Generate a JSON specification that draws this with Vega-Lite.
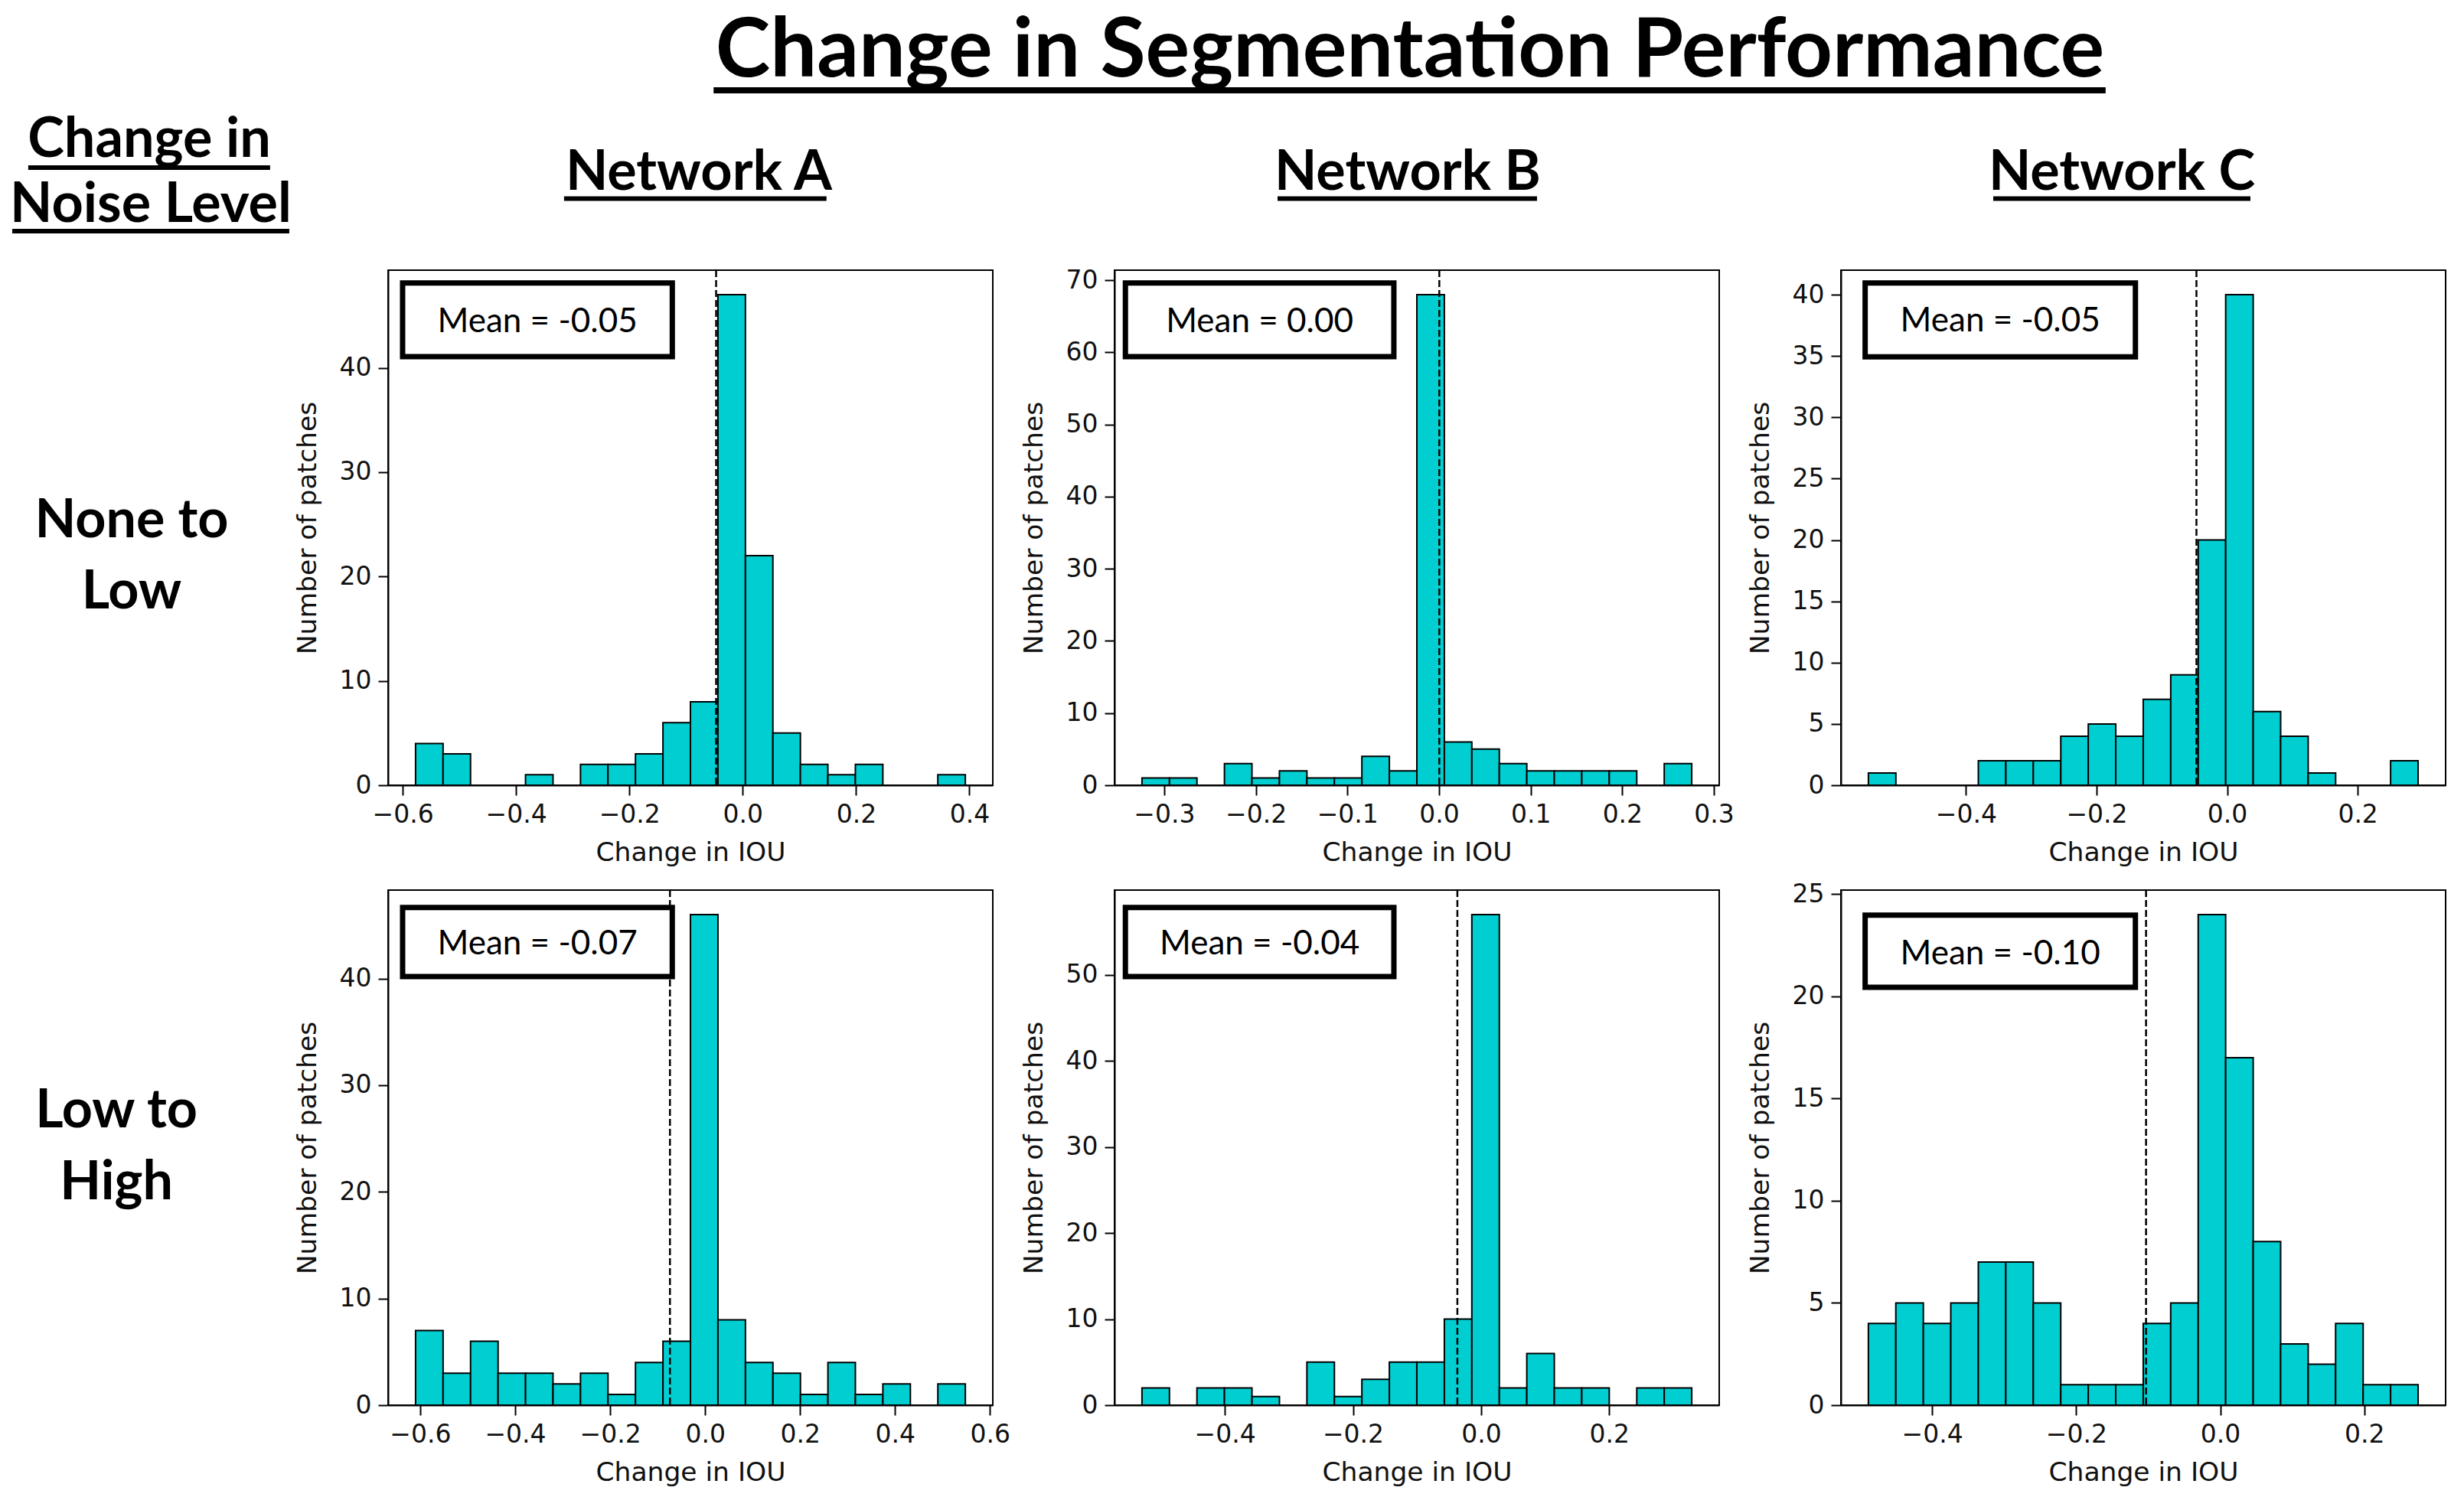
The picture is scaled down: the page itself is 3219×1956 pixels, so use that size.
{
  "$schema": "https://vega.github.io/schema/vega-lite/v6.json",
  "padding": {"top": 10, "left": 0, "right": 0, "bottom": 0},
  "background": "white",
  "columns": 4,
  "align": "each",
  "bounds": "flush",
  "spacing": {"row": 137, "column": 159},
  "datasets": {
    "bins": [
      {"panel": "A1", "lo": -0.5773, "hi": -0.5288, "count": 4},
      {"panel": "A1", "lo": -0.5288, "hi": -0.4803, "count": 3},
      {"panel": "A1", "lo": -0.3833, "hi": -0.3348, "count": 1},
      {"panel": "A1", "lo": -0.2863, "hi": -0.2378, "count": 2},
      {"panel": "A1", "lo": -0.2378, "hi": -0.1893, "count": 2},
      {"panel": "A1", "lo": -0.1893, "hi": -0.1408, "count": 3},
      {"panel": "A1", "lo": -0.1408, "hi": -0.0923, "count": 6},
      {"panel": "A1", "lo": -0.0923, "hi": -0.0438, "count": 8},
      {"panel": "A1", "lo": -0.0438, "hi": 0.0047, "count": 47},
      {"panel": "A1", "lo": 0.0047, "hi": 0.0532, "count": 22},
      {"panel": "A1", "lo": 0.0532, "hi": 0.1017, "count": 5},
      {"panel": "A1", "lo": 0.1017, "hi": 0.1502, "count": 2},
      {"panel": "A1", "lo": 0.1502, "hi": 0.1987, "count": 1},
      {"panel": "A1", "lo": 0.1987, "hi": 0.2472, "count": 2},
      {"panel": "A1", "lo": 0.3442, "hi": 0.3927, "count": 1},

      {"panel": "B1", "lo": -0.3242, "hi": -0.2942, "count": 1},
      {"panel": "B1", "lo": -0.2942, "hi": -0.2642, "count": 1},
      {"panel": "B1", "lo": -0.2342, "hi": -0.2042, "count": 3},
      {"panel": "B1", "lo": -0.2042, "hi": -0.1742, "count": 1},
      {"panel": "B1", "lo": -0.1742, "hi": -0.1442, "count": 2},
      {"panel": "B1", "lo": -0.1442, "hi": -0.1142, "count": 1},
      {"panel": "B1", "lo": -0.1142, "hi": -0.0842, "count": 1},
      {"panel": "B1", "lo": -0.0842, "hi": -0.0542, "count": 4},
      {"panel": "B1", "lo": -0.0542, "hi": -0.0242, "count": 2},
      {"panel": "B1", "lo": -0.0242, "hi": 0.0058, "count": 68},
      {"panel": "B1", "lo": 0.0058, "hi": 0.0358, "count": 6},
      {"panel": "B1", "lo": 0.0358, "hi": 0.0658, "count": 5},
      {"panel": "B1", "lo": 0.0658, "hi": 0.0958, "count": 3},
      {"panel": "B1", "lo": 0.0958, "hi": 0.1258, "count": 2},
      {"panel": "B1", "lo": 0.1258, "hi": 0.1558, "count": 2},
      {"panel": "B1", "lo": 0.1558, "hi": 0.1858, "count": 2},
      {"panel": "B1", "lo": 0.1858, "hi": 0.2158, "count": 2},
      {"panel": "B1", "lo": 0.2458, "hi": 0.2758, "count": 3},

      {"panel": "C1", "lo": -0.5495, "hi": -0.5074, "count": 1},
      {"panel": "C1", "lo": -0.3811, "hi": -0.3390, "count": 2},
      {"panel": "C1", "lo": -0.3390, "hi": -0.2969, "count": 2},
      {"panel": "C1", "lo": -0.2969, "hi": -0.2548, "count": 2},
      {"panel": "C1", "lo": -0.2548, "hi": -0.2127, "count": 4},
      {"panel": "C1", "lo": -0.2127, "hi": -0.1706, "count": 5},
      {"panel": "C1", "lo": -0.1706, "hi": -0.1285, "count": 4},
      {"panel": "C1", "lo": -0.1285, "hi": -0.0864, "count": 7},
      {"panel": "C1", "lo": -0.0864, "hi": -0.0443, "count": 9},
      {"panel": "C1", "lo": -0.0443, "hi": -0.0022, "count": 20},
      {"panel": "C1", "lo": -0.0022, "hi": 0.0399, "count": 40},
      {"panel": "C1", "lo": 0.0399, "hi": 0.0820, "count": 6},
      {"panel": "C1", "lo": 0.0820, "hi": 0.1241, "count": 4},
      {"panel": "C1", "lo": 0.1241, "hi": 0.1662, "count": 1},
      {"panel": "C1", "lo": 0.2504, "hi": 0.2925, "count": 2},

      {"panel": "A2", "lo": -0.6097, "hi": -0.5518, "count": 7},
      {"panel": "A2", "lo": -0.5518, "hi": -0.4939, "count": 3},
      {"panel": "A2", "lo": -0.4939, "hi": -0.4360, "count": 6},
      {"panel": "A2", "lo": -0.4360, "hi": -0.3781, "count": 3},
      {"panel": "A2", "lo": -0.3781, "hi": -0.3203, "count": 3},
      {"panel": "A2", "lo": -0.3203, "hi": -0.2624, "count": 2},
      {"panel": "A2", "lo": -0.2624, "hi": -0.2045, "count": 3},
      {"panel": "A2", "lo": -0.2045, "hi": -0.1466, "count": 1},
      {"panel": "A2", "lo": -0.1466, "hi": -0.0887, "count": 4},
      {"panel": "A2", "lo": -0.0887, "hi": -0.0308, "count": 6},
      {"panel": "A2", "lo": -0.0308, "hi": 0.0271, "count": 46},
      {"panel": "A2", "lo": 0.0271, "hi": 0.0850, "count": 8},
      {"panel": "A2", "lo": 0.0850, "hi": 0.1429, "count": 4},
      {"panel": "A2", "lo": 0.1429, "hi": 0.2008, "count": 3},
      {"panel": "A2", "lo": 0.2008, "hi": 0.2587, "count": 1},
      {"panel": "A2", "lo": 0.2587, "hi": 0.3165, "count": 4},
      {"panel": "A2", "lo": 0.3165, "hi": 0.3744, "count": 1},
      {"panel": "A2", "lo": 0.3744, "hi": 0.4323, "count": 2},
      {"panel": "A2", "lo": 0.4902, "hi": 0.5481, "count": 2},

      {"panel": "B2", "lo": -0.5294, "hi": -0.4865, "count": 2},
      {"panel": "B2", "lo": -0.4436, "hi": -0.4007, "count": 2},
      {"panel": "B2", "lo": -0.4007, "hi": -0.3577, "count": 2},
      {"panel": "B2", "lo": -0.3577, "hi": -0.3148, "count": 1},
      {"panel": "B2", "lo": -0.2719, "hi": -0.2290, "count": 5},
      {"panel": "B2", "lo": -0.2290, "hi": -0.1861, "count": 1},
      {"panel": "B2", "lo": -0.1861, "hi": -0.1432, "count": 3},
      {"panel": "B2", "lo": -0.1432, "hi": -0.1003, "count": 5},
      {"panel": "B2", "lo": -0.1003, "hi": -0.0573, "count": 5},
      {"panel": "B2", "lo": -0.0573, "hi": -0.0144, "count": 10},
      {"panel": "B2", "lo": -0.0144, "hi": 0.0285, "count": 57},
      {"panel": "B2", "lo": 0.0285, "hi": 0.0714, "count": 2},
      {"panel": "B2", "lo": 0.0714, "hi": 0.1143, "count": 6},
      {"panel": "B2", "lo": 0.1143, "hi": 0.1572, "count": 2},
      {"panel": "B2", "lo": 0.1572, "hi": 0.2001, "count": 2},
      {"panel": "B2", "lo": 0.2431, "hi": 0.2860, "count": 2},
      {"panel": "B2", "lo": 0.2860, "hi": 0.3289, "count": 2},

      {"panel": "C2", "lo": -0.4884, "hi": -0.4503, "count": 4},
      {"panel": "C2", "lo": -0.4503, "hi": -0.4121, "count": 5},
      {"panel": "C2", "lo": -0.4121, "hi": -0.3740, "count": 4},
      {"panel": "C2", "lo": -0.3740, "hi": -0.3358, "count": 5},
      {"panel": "C2", "lo": -0.3358, "hi": -0.2977, "count": 7},
      {"panel": "C2", "lo": -0.2977, "hi": -0.2595, "count": 7},
      {"panel": "C2", "lo": -0.2595, "hi": -0.2214, "count": 5},
      {"panel": "C2", "lo": -0.2214, "hi": -0.1832, "count": 1},
      {"panel": "C2", "lo": -0.1832, "hi": -0.1451, "count": 1},
      {"panel": "C2", "lo": -0.1451, "hi": -0.1069, "count": 1},
      {"panel": "C2", "lo": -0.1069, "hi": -0.0688, "count": 4},
      {"panel": "C2", "lo": -0.0688, "hi": -0.0306, "count": 5},
      {"panel": "C2", "lo": -0.0306, "hi": 0.0075, "count": 24},
      {"panel": "C2", "lo": 0.0075, "hi": 0.0457, "count": 17},
      {"panel": "C2", "lo": 0.0457, "hi": 0.0838, "count": 8},
      {"panel": "C2", "lo": 0.0838, "hi": 0.1220, "count": 3},
      {"panel": "C2", "lo": 0.1220, "hi": 0.1601, "count": 2},
      {"panel": "C2", "lo": 0.1601, "hi": 0.1983, "count": 4},
      {"panel": "C2", "lo": 0.1983, "hi": 0.2364, "count": 1},
      {"panel": "C2", "lo": 0.2364, "hi": 0.2746, "count": 1}
    ],
    "stats": [
      {"panel": "A1", "mean": -0.047, "label": "Mean = -0.05"},
      {"panel": "B1", "mean": 0.0003, "label": "Mean = 0.00"},
      {"panel": "C1", "mean": -0.047, "label": "Mean = -0.05"},
      {"panel": "A2", "mean": -0.074, "label": "Mean = -0.07"},
      {"panel": "B2", "mean": -0.037, "label": "Mean = -0.04"},
      {"panel": "C2", "mean": -0.103, "label": "Mean = -0.10"}
    ]
  },
  "concat": [
    {
      "width": 348, "height": 206,
      "view": {"stroke": null},
      "data": {"values": [{"l1": "Change in", "l2": "Noise Level"}]},
      "layer": [
        {
          "mark": {"type": "text", "font": "Lato", "fontWeight": "bold", "fontSize": 72, "align": "center", "baseline": "alphabetic", "color": "black"},
          "encoding": {
            "text": {"field": "l1"},
            "x": {"datum": 0.5603, "type": "quantitative", "scale": {"domain": [0, 1], "nice": false, "zero": false}, "axis": null},
            "y": {"datum": 0.9466, "type": "quantitative", "scale": {"domain": [0, 1], "nice": false, "zero": false, "reverse": true}, "axis": null}
          }
        },
        {
          "mark": {"type": "text", "font": "Lato", "fontWeight": "bold", "fontSize": 72, "align": "center", "baseline": "alphabetic", "color": "black"},
          "encoding": {
            "text": {"field": "l2"},
            "x": {"datum": 0.566},
            "y": {"datum": 1.3592}
          }
        },
        {
          "mark": {"type": "rule", "color": "black", "strokeWidth": 6},
          "encoding": {"x": {"datum": 0.106}, "x2": {"datum": 1.014}, "y": {"datum": 1.0146}}
        },
        {
          "mark": {"type": "rule", "color": "black", "strokeWidth": 6},
          "encoding": {"x": {"datum": 0.046}, "x2": {"datum": 1.086}, "y": {"datum": 1.4175}}
        }
      ]
    },
    {
      "width": 790, "height": 206,
      "view": {"stroke": null},
      "data": {"values": [{"label": "Network A"}]},
      "layer": [
        {
          "mark": {"type": "text", "font": "Lato", "fontWeight": "bold", "fontSize": 72, "align": "center", "baseline": "alphabetic", "color": "black"},
          "encoding": {
            "text": {"field": "label"},
            "x": {"datum": 0.5139, "type": "quantitative", "scale": {"domain": [0, 1], "nice": false, "zero": false}, "axis": null},
            "y": {"datum": 1.1553, "type": "quantitative", "scale": {"domain": [0, 1], "nice": false, "zero": false, "reverse": true}, "axis": null}
          }
        },
        {
          "mark": {"type": "rule", "color": "black", "strokeWidth": 6},
          "encoding": {"x": {"datum": 0.291}, "x2": {"datum": 0.725}, "y": {"datum": 1.2112}}
        }
      ]
    },
    {
      "width": 790, "height": 206,
      "view": {"stroke": null},
      "data": {"values": [{"title": "Change in Segmentation Performance", "label": "Network B"}]},
      "layer": [
        {
          "mark": {"type": "text", "font": "Lato", "fontWeight": "bold", "fontSize": 108, "align": "center", "baseline": "alphabetic", "color": "black"},
          "encoding": {
            "text": {"field": "title"},
            "x": {"datum": 0.4886, "type": "quantitative", "scale": {"domain": [0, 1], "nice": false, "zero": false}, "axis": null},
            "y": {"datum": 0.4369, "type": "quantitative", "scale": {"domain": [0, 1], "nice": false, "zero": false, "reverse": true}, "axis": null}
          }
        },
        {
          "mark": {"type": "text", "font": "Lato", "fontWeight": "bold", "fontSize": 72, "align": "center", "baseline": "alphabetic", "color": "black"},
          "encoding": {
            "text": {"field": "label"},
            "x": {"datum": 0.4848},
            "y": {"datum": 1.1553}
          }
        },
        {
          "mark": {"type": "rule", "color": "black", "strokeWidth": 8},
          "encoding": {"x": {"datum": -0.663}, "x2": {"datum": 1.639}, "y": {"datum": 0.5243}}
        },
        {
          "mark": {"type": "rule", "color": "black", "strokeWidth": 6},
          "encoding": {"x": {"datum": 0.2696}, "x2": {"datum": 0.6987}, "y": {"datum": 1.2112}}
        }
      ]
    },
    {
      "width": 790, "height": 206,
      "view": {"stroke": null},
      "data": {"values": [{"label": "Network C"}]},
      "layer": [
        {
          "mark": {"type": "text", "font": "Lato", "fontWeight": "bold", "fontSize": 72, "align": "center", "baseline": "alphabetic", "color": "black"},
          "encoding": {
            "text": {"field": "label"},
            "x": {"datum": 0.4646, "type": "quantitative", "scale": {"domain": [0, 1], "nice": false, "zero": false}, "axis": null},
            "y": {"datum": 1.1553, "type": "quantitative", "scale": {"domain": [0, 1], "nice": false, "zero": false, "reverse": true}, "axis": null}
          }
        },
        {
          "mark": {"type": "rule", "color": "black", "strokeWidth": 6},
          "encoding": {"x": {"datum": 0.2519}, "x2": {"datum": 0.6772}, "y": {"datum": 1.2112}}
        }
      ]
    },
    {
      "width": 348, "height": 673,
      "view": {"stroke": null},
      "data": {"values": [{"label": "None to\nLow"}]},
      "mark": {"type": "text", "font": "Lato", "fontWeight": "bold", "fontSize": 70, "lineBreak": "\n", "lineHeight": 93, "align": "center", "baseline": "alphabetic", "color": "black"},
      "encoding": {
        "text": {"field": "label"},
        "x": {"datum": 0.494, "type": "quantitative", "scale": {"domain": [0, 1], "nice": false, "zero": false}, "axis": null},
        "y": {"datum": 0.5186, "type": "quantitative", "scale": {"domain": [0, 1], "nice": false, "zero": false, "reverse": true}, "axis": null}
      }
    },
    {
      "width": 790, "height": 673,
      "view": {"stroke": "black", "strokeWidth": 2},
      "layer": [
        {
          "data": {"name": "bins"},
          "transform": [{"filter": "datum.panel === 'A1'"}],
          "mark": {"type": "rect", "fill": "#00CED1", "stroke": "black", "strokeWidth": 2},
          "encoding": {
            "x": {"field": "lo", "type": "quantitative", "scale": {"domain": [-0.6258, 0.4412], "nice": false, "zero": false}, "axis": {"title": "Change in IOU", "values": [-0.6, -0.4, -0.2, 0, 0.2, 0.4], "format": ".1f"}},
            "x2": {"field": "hi"},
            "y": {"field": "count", "type": "quantitative", "scale": {"domain": [0, 49.35], "nice": false, "zero": false}, "axis": {"title": "Number of patches", "values": [0, 10, 20, 30, 40], "format": "d"}},
            "y2": {"datum": 0}
          }
        },
        {
          "data": {"name": "stats"},
          "transform": [{"filter": "datum.panel === 'A1'"}],
          "mark": {"type": "rule", "color": "black", "strokeWidth": 2.5, "strokeDash": [9, 4]},
          "encoding": {"x": {"field": "mean", "type": "quantitative"}}
        },
        {
          "data": {"name": "stats"},
          "transform": [{"filter": "datum.panel === 'A1'"}],
          "mark": {"type": "rect", "fill": "white", "stroke": "black", "strokeWidth": 7},
          "encoding": {"x": {"datum": -0.6002}, "x2": {"datum": -0.1243}, "y": {"datum": 48.12}, "y2": {"datum": 41.06}}
        },
        {
          "data": {"name": "stats"},
          "transform": [{"filter": "datum.panel === 'A1'"}],
          "mark": {"type": "text", "font": "Lato", "fontSize": 44, "align": "center", "baseline": "middle", "color": "black"},
          "encoding": {"text": {"field": "label"}, "x": {"datum": -0.3623}, "y": {"datum": 44.4}}
        }
      ]
    },
    {
      "width": 790, "height": 673,
      "view": {"stroke": "black", "strokeWidth": 2},
      "layer": [
        {
          "data": {"name": "bins"},
          "transform": [{"filter": "datum.panel === 'B1'"}],
          "mark": {"type": "rect", "fill": "#00CED1", "stroke": "black", "strokeWidth": 2},
          "encoding": {
            "x": {"field": "lo", "type": "quantitative", "scale": {"domain": [-0.3542, 0.3058], "nice": false, "zero": false}, "axis": {"title": "Change in IOU", "values": [-0.3, -0.2, -0.1, 0, 0.1, 0.2, 0.3], "format": ".1f"}},
            "x2": {"field": "hi"},
            "y": {"field": "count", "type": "quantitative", "scale": {"domain": [0, 71.4], "nice": false, "zero": false}, "axis": {"title": "Number of patches", "values": [0, 10, 20, 30, 40, 50, 60, 70], "format": "d"}},
            "y2": {"datum": 0}
          }
        },
        {
          "data": {"name": "stats"},
          "transform": [{"filter": "datum.panel === 'B1'"}],
          "mark": {"type": "rule", "color": "black", "strokeWidth": 2.5, "strokeDash": [9, 4]},
          "encoding": {"x": {"field": "mean", "type": "quantitative"}}
        },
        {
          "data": {"name": "stats"},
          "transform": [{"filter": "datum.panel === 'B1'"}],
          "mark": {"type": "rect", "fill": "white", "stroke": "black", "strokeWidth": 7},
          "encoding": {"x": {"datum": -0.3423}, "x2": {"datum": -0.0493}, "y": {"datum": 69.62}, "y2": {"datum": 59.4}}
        },
        {
          "data": {"name": "stats"},
          "transform": [{"filter": "datum.panel === 'B1'"}],
          "mark": {"type": "text", "font": "Lato", "fontSize": 44, "align": "center", "baseline": "middle", "color": "black"},
          "encoding": {"text": {"field": "label"}, "x": {"datum": -0.1958}, "y": {"datum": 64.2}}
        }
      ]
    },
    {
      "width": 790, "height": 673,
      "view": {"stroke": "black", "strokeWidth": 2},
      "layer": [
        {
          "data": {"name": "bins"},
          "transform": [{"filter": "datum.panel === 'C1'"}],
          "mark": {"type": "rect", "fill": "#00CED1", "stroke": "black", "strokeWidth": 2},
          "encoding": {
            "x": {"field": "lo", "type": "quantitative", "scale": {"domain": [-0.5916, 0.3347], "nice": false, "zero": false}, "axis": {"title": "Change in IOU", "values": [-0.4, -0.2, 0, 0.2], "format": ".1f"}},
            "x2": {"field": "hi"},
            "y": {"field": "count", "type": "quantitative", "scale": {"domain": [0, 42], "nice": false, "zero": false}, "axis": {"title": "Number of patches", "values": [0, 5, 10, 15, 20, 25, 30, 35, 40], "format": "d"}},
            "y2": {"datum": 0}
          }
        },
        {
          "data": {"name": "stats"},
          "transform": [{"filter": "datum.panel === 'C1'"}],
          "mark": {"type": "rule", "color": "black", "strokeWidth": 2.5, "strokeDash": [9, 4]},
          "encoding": {"x": {"field": "mean", "type": "quantitative"}}
        },
        {
          "data": {"name": "stats"},
          "transform": [{"filter": "datum.panel === 'C1'"}],
          "mark": {"type": "rect", "fill": "white", "stroke": "black", "strokeWidth": 7},
          "encoding": {"x": {"datum": -0.5545}, "x2": {"datum": -0.1405}, "y": {"datum": 40.95}, "y2": {"datum": 34.94}}
        },
        {
          "data": {"name": "stats"},
          "transform": [{"filter": "datum.panel === 'C1'"}],
          "mark": {"type": "text", "font": "Lato", "fontSize": 44, "align": "center", "baseline": "middle", "color": "black"},
          "encoding": {"text": {"field": "label"}, "x": {"datum": -0.3475}, "y": {"datum": 37.8}}
        }
      ]
    },
    {
      "width": 348, "height": 673,
      "view": {"stroke": null},
      "data": {"values": [{"label": "Low to\nHigh"}]},
      "mark": {"type": "text", "font": "Lato", "fontWeight": "bold", "fontSize": 70, "lineBreak": "\n", "lineHeight": 94, "align": "center", "baseline": "alphabetic", "color": "black"},
      "encoding": {
        "text": {"field": "label"},
        "x": {"datum": 0.437, "type": "quantitative", "scale": {"domain": [0, 1], "nice": false, "zero": false}, "axis": null},
        "y": {"datum": 0.4606, "type": "quantitative", "scale": {"domain": [0, 1], "nice": false, "zero": false, "reverse": true}, "axis": null}
      }
    },
    {
      "width": 790, "height": 673,
      "view": {"stroke": "black", "strokeWidth": 2},
      "layer": [
        {
          "data": {"name": "bins"},
          "transform": [{"filter": "datum.panel === 'A2'"}],
          "mark": {"type": "rect", "fill": "#00CED1", "stroke": "black", "strokeWidth": 2},
          "encoding": {
            "x": {"field": "lo", "type": "quantitative", "scale": {"domain": [-0.6676, 0.6059], "nice": false, "zero": false}, "axis": {"title": "Change in IOU", "values": [-0.6, -0.4, -0.2, 0, 0.2, 0.4, 0.6], "format": ".1f"}},
            "x2": {"field": "hi"},
            "y": {"field": "count", "type": "quantitative", "scale": {"domain": [0, 48.3], "nice": false, "zero": false}, "axis": {"title": "Number of patches", "values": [0, 10, 20, 30, 40], "format": "d"}},
            "y2": {"datum": 0}
          }
        },
        {
          "data": {"name": "stats"},
          "transform": [{"filter": "datum.panel === 'A2'"}],
          "mark": {"type": "rule", "color": "black", "strokeWidth": 2.5, "strokeDash": [9, 4]},
          "encoding": {"x": {"field": "mean", "type": "quantitative"}}
        },
        {
          "data": {"name": "stats"},
          "transform": [{"filter": "datum.panel === 'A2'"}],
          "mark": {"type": "rect", "fill": "white", "stroke": "black", "strokeWidth": 7},
          "encoding": {"x": {"datum": -0.637}, "x2": {"datum": -0.0691}, "y": {"datum": 46.66}, "y2": {"datum": 40.19}}
        },
        {
          "data": {"name": "stats"},
          "transform": [{"filter": "datum.panel === 'A2'"}],
          "mark": {"type": "text", "font": "Lato", "fontSize": 44, "align": "center", "baseline": "middle", "color": "black"},
          "encoding": {"text": {"field": "label"}, "x": {"datum": -0.3531}, "y": {"datum": 43.2}}
        }
      ]
    },
    {
      "width": 790, "height": 673,
      "view": {"stroke": "black", "strokeWidth": 2},
      "layer": [
        {
          "data": {"name": "bins"},
          "transform": [{"filter": "datum.panel === 'B2'"}],
          "mark": {"type": "rect", "fill": "#00CED1", "stroke": "black", "strokeWidth": 2},
          "encoding": {
            "x": {"field": "lo", "type": "quantitative", "scale": {"domain": [-0.5723, 0.3718], "nice": false, "zero": false}, "axis": {"title": "Change in IOU", "values": [-0.4, -0.2, 0, 0.2], "format": ".1f"}},
            "x2": {"field": "hi"},
            "y": {"field": "count", "type": "quantitative", "scale": {"domain": [0, 59.85], "nice": false, "zero": false}, "axis": {"title": "Number of patches", "values": [0, 10, 20, 30, 40, 50], "format": "d"}},
            "y2": {"datum": 0}
          }
        },
        {
          "data": {"name": "stats"},
          "transform": [{"filter": "datum.panel === 'B2'"}],
          "mark": {"type": "rule", "color": "black", "strokeWidth": 2.5, "strokeDash": [9, 4]},
          "encoding": {"x": {"field": "mean", "type": "quantitative"}}
        },
        {
          "data": {"name": "stats"},
          "transform": [{"filter": "datum.panel === 'B2'"}],
          "mark": {"type": "rect", "fill": "white", "stroke": "black", "strokeWidth": 7},
          "encoding": {"x": {"datum": -0.5553}, "x2": {"datum": -0.1361}, "y": {"datum": 57.82}, "y2": {"datum": 49.79}}
        },
        {
          "data": {"name": "stats"},
          "transform": [{"filter": "datum.panel === 'B2'"}],
          "mark": {"type": "text", "font": "Lato", "fontSize": 44, "align": "center", "baseline": "middle", "color": "black"},
          "encoding": {"text": {"field": "label"}, "x": {"datum": -0.3457}, "y": {"datum": 53.5}}
        }
      ]
    },
    {
      "width": 790, "height": 673,
      "view": {"stroke": "black", "strokeWidth": 2},
      "layer": [
        {
          "data": {"name": "bins"},
          "transform": [{"filter": "datum.panel === 'C2'"}],
          "mark": {"type": "rect", "fill": "#00CED1", "stroke": "black", "strokeWidth": 2},
          "encoding": {
            "x": {"field": "lo", "type": "quantitative", "scale": {"domain": [-0.5265, 0.3128], "nice": false, "zero": false}, "axis": {"title": "Change in IOU", "values": [-0.4, -0.2, 0, 0.2], "format": ".1f"}},
            "x2": {"field": "hi"},
            "y": {"field": "count", "type": "quantitative", "scale": {"domain": [0, 25.2], "nice": false, "zero": false}, "axis": {"title": "Number of patches", "values": [0, 5, 10, 15, 20, 25], "format": "d"}},
            "y2": {"datum": 0}
          }
        },
        {
          "data": {"name": "stats"},
          "transform": [{"filter": "datum.panel === 'C2'"}],
          "mark": {"type": "rule", "color": "black", "strokeWidth": 2.5, "strokeDash": [9, 4]},
          "encoding": {"x": {"field": "mean", "type": "quantitative"}}
        },
        {
          "data": {"name": "stats"},
          "transform": [{"filter": "datum.panel === 'C2'"}],
          "mark": {"type": "rect", "fill": "white", "stroke": "black", "strokeWidth": 7},
          "encoding": {"x": {"datum": -0.4929}, "x2": {"datum": -0.1178}, "y": {"datum": 23.97}, "y2": {"datum": 20.44}}
        },
        {
          "data": {"name": "stats"},
          "transform": [{"filter": "datum.panel === 'C2'"}],
          "mark": {"type": "text", "font": "Lato", "fontSize": 44, "align": "center", "baseline": "middle", "color": "black"},
          "encoding": {"text": {"field": "label"}, "x": {"datum": -0.3054}, "y": {"datum": 22.05}}
        }
      ]
    }
  ],
  "config": {
    "font": "DejaVu Sans",
    "axis": {
      "labelFont": "DejaVu Sans",
      "labelFontSize": 33,
      "labelColor": "#111111",
      "titleFont": "DejaVu Sans",
      "titleFontSize": 34.5,
      "titleFontWeight": "normal",
      "titleColor": "#111111",
      "domainColor": "black",
      "domainWidth": 2,
      "tickColor": "black",
      "tickWidth": 2,
      "tickSize": 13,
      "grid": false,
      "labelPadding": 9,
      "labelFlush": false,
      "labelOverlap": false
    },
    "axisX": {"titlePadding": 16},
    "axisY": {"titlePadding": 24}
  }
}
